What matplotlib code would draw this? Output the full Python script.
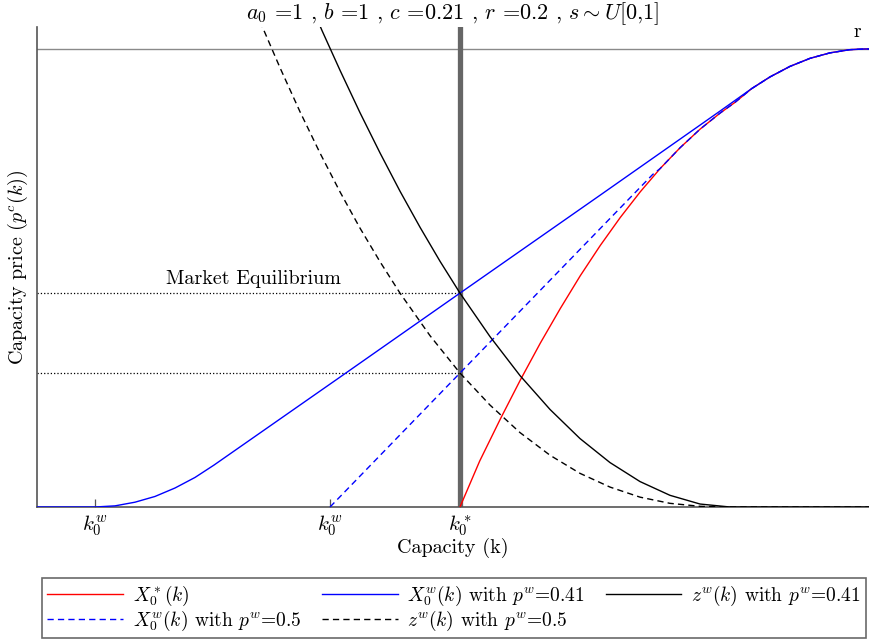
import numpy as np
from matplotlib import pyplot as plt

plt.rcParams['font.family'] = 'serif'
plt.rcParams['font.serif'] = ['cmr10', 'DejaVu Serif']
plt.rcParams['mathtext.fontset'] = 'cm'
plt.rcParams['axes.unicode_minus'] = False
plt.rcParams['axes.formatter.use_mathtext'] = True

# capacity k (0..1) and capacity price
r_cap = 0.2
k_eq = 0.5084
p_eq_041 = 0.0934
p_eq_05 = 0.0585

k_red = [0.5084, 0.532, 0.557, 0.581, 0.605, 0.629, 0.653, 0.677, 0.701, 0.725,
         0.749, 0.773, 0.797, 0.821, 0.839, 0.859, 0.881, 0.905, 0.929, 0.953,
         0.977, 0.995, 1.0]
p_red = [0.0, 0.0200, 0.0385, 0.0555, 0.0716, 0.0867, 0.1010, 0.1142, 0.1264, 0.1376,
         0.1478, 0.1569, 0.1650, 0.1720, 0.1767, 0.1827, 0.1878, 0.1924, 0.1959, 0.1983,
         0.1997, 0.2, 0.2]

k_blue = [0.0, 0.0697, 0.0938, 0.1178, 0.1418, 0.1659, 0.1899, 0.2127, 0.3606,
          0.5084, 0.677, 0.821, 0.859, 0.881, 0.905, 0.929, 0.953, 0.977, 0.995, 1.0]
p_blue = [0.0, 0.0, 0.0005, 0.0021, 0.0046, 0.0083, 0.0129, 0.0183, 0.0558,
          0.0934, 0.1362, 0.1729, 0.1827, 0.1878, 0.1924, 0.1959, 0.1983, 0.1997, 0.2, 0.2]

k_blue_d = [0.3522, 0.5084, 0.740, 0.749, 0.773, 0.797, 0.821, 0.839, 0.859,
            0.881, 0.905, 0.929, 0.953, 0.977, 0.995, 1.0]
p_blue_d = [0.0, 0.0585, 0.1452, 0.1478, 0.1569, 0.1650, 0.1720, 0.1767, 0.1827,
            0.1878, 0.1924, 0.1959, 0.1983, 0.1997, 0.2, 0.2]

k_z = [0.3377, 0.3425, 0.3642, 0.3882, 0.4123, 0.4363, 0.4603, 0.4844, 0.5084,
       0.5445, 0.5805, 0.6166, 0.6526, 0.6887, 0.7248, 0.7608, 0.7969, 0.8329, 1.0]
p_z = [0.2122, 0.2081, 0.1907, 0.1722, 0.1546, 0.1379, 0.1222, 0.1073, 0.0934,
       0.0744, 0.0574, 0.0426, 0.0299, 0.0194, 0.0111, 0.0051, 0.0013, 0.0, 0.0]

k_z_d = [0.2680, 0.2921, 0.3161, 0.3401, 0.3642, 0.3882, 0.4123, 0.4363, 0.4724,
         0.5084, 0.5445, 0.5805, 0.6166, 0.6526, 0.6887, 0.7248, 0.7608, 0.7969,
         0.8269, 1.0]
p_z_d = [0.2121, 0.1918, 0.1726, 0.1546, 0.1376, 0.1218, 0.1071, 0.0934, 0.0748,
         0.0585, 0.0445, 0.0325, 0.0226, 0.0147, 0.0087, 0.0043, 0.0016, 0.0003,
         0.0, 0.0]

tick_pos = [0.0697, 0.3522, 0.5084]
tick_lab = [r'$k_0^w$', r'$k_0^w$', r'$k_0^*$']

fig = plt.figure(figsize=(8.69, 6.41), dpi=100)
ax = fig.add_axes([37 / 869, 1 - 507 / 641, 1 - 37 / 869, 480 / 641])

ax.axhline(r_cap, color='#8a8a8a', lw=1.0, zorder=1)
ax.axvline(k_eq, color='#666666', lw=3.8, zorder=2)
ax.plot([0, k_eq], [p_eq_041, p_eq_041], ':', color='k', lw=0.9, zorder=2)
ax.plot([0, k_eq], [p_eq_05, p_eq_05], ':', color='k', lw=0.9, zorder=2)

l_red, = ax.plot(k_red, p_red, color='red', lw=1.0, zorder=3)
l_blue, = ax.plot(k_blue, p_blue, color='blue', lw=1.0, zorder=4)
l_blue_d, = ax.plot(k_blue_d, p_blue_d, color='blue', lw=1.0, dashes=(4.5, 3), zorder=4)
l_z, = ax.plot(k_z, p_z, color='k', lw=1.0, zorder=4)
l_z_d, = ax.plot(k_z_d, p_z_d, color='k', lw=1.0, dashes=(4.5, 3), zorder=4)

ax.text(0.26, 0.0955, 'Market Equilibrium', fontsize=14.5, ha='center', va='bottom')
ax.text(0.986, 0.2035, 'r', fontsize=14, ha='center', va='bottom')

ax.set_xlim(0, 1)
ax.set_ylim(0, 0.2096)
ax.set_xticks(tick_pos)
ax.set_xticklabels(tick_lab, fontsize=15)
ax.set_yticks([])
ax.tick_params(axis='x', direction='in', length=6, width=0.9, color='#555555', pad=5)
for side in ['top', 'right']:
    ax.spines[side].set_visible(False)
for side in ['left', 'bottom']:
    ax.spines[side].set_color('#555555')
    ax.spines[side].set_linewidth(1.2)

ax.set_xlabel('Capacity (k)', fontsize=14.5, labelpad=0)
ax.set_ylabel(r'Capacity price ($p^c(k)$)', fontsize=14.5, labelpad=5)
ax.set_title(r'$a_0$ =1 , $b$ =1 , $c$ =0.21 , $r$ =0.2 , $s\sim U$[0,1]',
             fontsize=16, pad=3)

handles = [l_red, l_blue_d, l_blue, l_z_d, l_z]
labels = [r'$X_0^*(k)$', r'$X_0^w(k)$ with $p^w$=0.5', r'$X_0^w(k)$ with $p^w$=0.41',
          r'$z^w(k)$ with $p^w$=0.5', r'$z^w(k)$ with $p^w$=0.41']
leg = fig.legend(handles, labels, ncol=3, loc='upper left', mode='expand',
                 bbox_to_anchor=(42 / 869, 1 - 578 / 641, 824 / 869, 0.0),
                 borderaxespad=0, fontsize=14, handlelength=3.9, handletextpad=0.5,
                 labelspacing=0.06, borderpad=0.28,
                 fancybox=False, frameon=True, edgecolor='#444444')
leg.get_frame().set_linewidth(1.2)

plt.savefig('out.png', dpi=100)
plt.close()
